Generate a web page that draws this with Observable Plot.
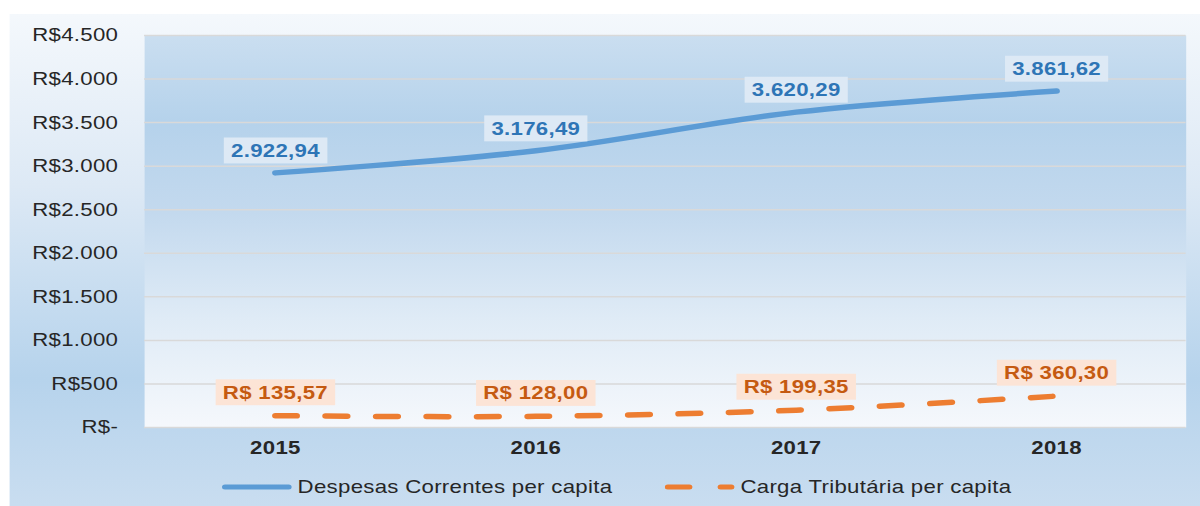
<!DOCTYPE html>
<html><head><meta charset="utf-8">
<script src="https://cdn.jsdelivr.net/npm/d3@7"></script>
<script src="https://cdn.jsdelivr.net/npm/@observablehq/plot@0.6"></script>
<style>
html,body{margin:0;padding:0;background:#fff;width:1200px;height:506px;overflow:hidden;}
#wrap{position:absolute;left:0;top:0;width:1000px;height:506px;transform:scaleX(1.2);transform-origin:0 0;font-family:"Liberation Sans",Arial,sans-serif;}
#frame{position:absolute;left:8.33px;top:14px;width:991.67px;height:492px;background:linear-gradient(to bottom,#f4f8fc 0%,#dde9f5 35%,#b6d3ec 74%,#c9ddf0 100%);}
#chart{position:absolute;left:0;top:0;}
#legend{position:absolute;left:0;top:476px;width:1000px;height:22px;font-size:18.5px;line-height:22px;color:#262626;white-space:nowrap;letter-spacing:0.25px;}
#legend .item{position:absolute;top:0;display:flex;align-items:center;}
</style></head><body>
<div id="wrap"><div id="frame"></div><div id="chart"></div><div id="legend"></div></div>
<script>
const years = ["2015", "2016", "2017", "2018"];
const despesas = [2922.94, 3176.49, 3620.29, 3861.62];
const carga = [135.57, 128.00, 199.35, 360.30];
const yTicks = [0, 500, 1000, 1500, 2000, 2500, 3000, 3500, 4000, 4500];
const yTickLabels = ["R$-", "R$500", "R$1.000", "R$1.500", "R$2.000", "R$2.500", "R$3.000", "R$3.500", "R$4.000", "R$4.500"];
const seriesNames = ["Despesas Correntes per capita", "Carga Tributária per capita"];
const seriesColors = ["#5b9bd5", "#ed7d31"];

const ptBR = d3.formatLocale({decimal: ",", thousands: ".", grouping: [3], currency: ["R$ ", ""]});
const fmtNum = ptBR.format(",.2f");
const despRows = years.map((y, i) => ({year: y, value: despesas[i], label: fmtNum(despesas[i])}));
const cargaRows = years.map((y, i) => ({year: y, value: carga[i], label: "R$ " + fmtNum(carga[i])}));

const chart = Plot.plot({
  width: 1000, height: 506,
  marginLeft: 120, marginRight: 12, marginTop: 35, marginBottom: 79,
  style: {background: "transparent", fontFamily: '"Liberation Sans", Arial, sans-serif', fontSize: "18.5px", color: "#262626", overflow: "visible"},
  x: {type: "point", domain: years, padding: 0.5, label: null},
  y: {domain: [0, 4500], label: null},
  marks: [
    Plot.frame({fill: "url(#plotGrad)"}),
    Plot.ruleY(yTicks, {stroke: "#d9d9d9", strokeWidth: 1.5}),
    Plot.axisY({ticks: yTicks, tickFormat: d => yTickLabels[yTicks.indexOf(d)], tickSize: 0, tickPadding: 22, fontSize: 18.5, label: null}),
    Plot.axisX({tickSize: 0, tickPadding: 13, fontSize: 18.5, fontWeight: "bold", label: null}),
    Plot.line(despRows, {x: "year", y: "value", stroke: seriesColors[0], strokeWidth: 5.5, curve: "catmull-rom", strokeLinecap: "round"}),
    Plot.line(cargaRows, {x: "year", y: "value", stroke: seriesColors[1], strokeWidth: 5.5, curve: "catmull-rom", strokeLinecap: "round", strokeDasharray: "18,24"}),
    Plot.text(despRows, {x: "year", y: "value", text: "label", dy: -22, fill: "#2e75b6", fontWeight: "bold", fontSize: 18.5}),
    Plot.text(cargaRows, {x: "year", y: "value", text: "label", dy: -23, fill: "#c55a11", fontWeight: "bold", fontSize: 18.5})
  ]
});
document.getElementById("chart").appendChild(chart);

// gradient for plot area
const svg = d3.select(chart);
svg.selectAll("text").style("letter-spacing", "0.25px");
const defs = svg.insert("defs", ":first-child");
const grad = defs.append("linearGradient").attr("id", "plotGrad").attr("x1", 0).attr("y1", 0).attr("x2", 0).attr("y2", 1);
[[0, "#cadef0"], [0.22, "#b5d2eb"], [0.45, "#c3d9ee"], [0.72, "#dfebf6"], [1, "#f5f8fc"]].forEach(([o, c]) => grad.append("stop").attr("offset", o).attr("stop-color", c));

// label boxes
const boxFills = ["#dde9f5", "#fce4d6"];
svg.selectAll('g[aria-label="text"]').each(function(_, gi) {
  d3.select(this).selectAll("text").each(function() {
    const b = this.getBBox();
    const r = document.createElementNS("http://www.w3.org/2000/svg", "rect");
    r.setAttribute("x", b.x - 6);
    r.setAttribute("y", b.y - 3);
    r.setAttribute("width", b.width + 12);
    r.setAttribute("height", b.height + 6);
    r.setAttribute("fill", boxFills[gi]);
    const t = this.getAttribute("transform");
    if (t) r.setAttribute("transform", t);
    this.parentNode.insertBefore(r, this);
  });
});

// legend
const legend = d3.select("#legend");
const i1 = legend.append("div").attr("class", "item").style("left", "185px");
const s1 = i1.append("svg").attr("width", 63).attr("height", 8);
s1.append("line").attr("x1", 2.5).attr("x2", 55.5).attr("y1", 4).attr("y2", 4).attr("stroke", seriesColors[0]).attr("stroke-width", 5).attr("stroke-linecap", "round");
i1.append("span").text(seriesNames[0]);
const i2 = legend.append("div").attr("class", "item").style("left", "554px");
const s2 = i2.append("svg").attr("width", 63).attr("height", 8);
s2.append("line").attr("x1", 2.5).attr("x2", 55.5).attr("y1", 4).attr("y2", 4).attr("stroke", seriesColors[1]).attr("stroke-width", 5).attr("stroke-linecap", "round").attr("stroke-dasharray", "18,26");
i2.append("span").text(seriesNames[1]);
</script>
</body></html>
